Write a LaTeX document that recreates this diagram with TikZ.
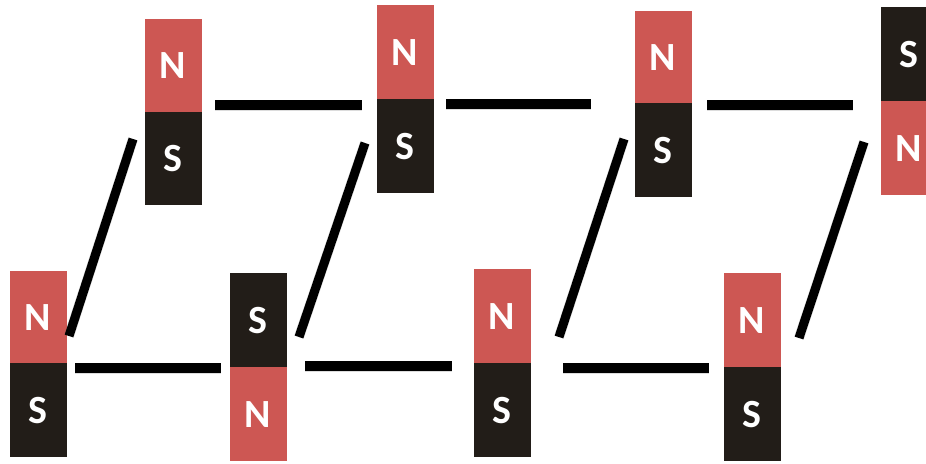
\documentclass[tikz,border=0pt]{standalone}
\usepackage{fontspec}
\setmainfont{Carlito}
\definecolor{northred}{HTML}{CD5753}
\definecolor{southdark}{HTML}{221D18}
\begin{document}
\begin{tikzpicture}[x=1pt,y=-1pt,
  pole/.style={rectangle, draw=none, inner sep=0pt, minimum width=57pt,
    anchor=north, text=white, font=\fontsize{40}{40}\selectfont\bfseries},
  npole/.style={pole, fill=northred, minimum height=#1},
  spole/.style={pole, fill=southdark, minimum height=#1},
  bar/.style={line width=#1, black, line cap=butt},
  barshadow/.style={line width=#1, black!55, opacity=0.25, line cap=butt},
]
\useasboundingbox (0,0) rectangle (926,463);
\clip (0,0) rectangle (926,463);

% upper row of magnets
\node[npole=93] (t1n) at (173,19)  {N};
\node[spole=93] (t1s) at (173,112) {S};
\node[npole=94] (t2n) at (405,5)   {N};
\node[spole=94] (t2s) at (405,99)  {S};
\node[npole=92] (t3n) at (663,11)  {N};
\node[spole=94] (t3s) at (663,103) {S};
\node[spole=94] (t4s) at (909,7)   {S};
\node[npole=94] (t4n) at (909,101) {N};

% lower row of magnets
\node[npole=92] (b1n) at (38,271)  {N};
\node[spole=94] (b1s) at (38,363)  {S};
\node[spole=94] (b2s) at (258,273) {S};
\node[npole=94] (b2n) at (258,367) {N};
\node[npole=94] (b3n) at (502,269) {N};
\node[spole=94] (b3s) at (502,363) {S};
\node[npole=94] (b4n) at (752,273) {N};
\node[spole=94] (b4s) at (752,367) {S};

% bar end points
\coordinate (h1a) at (215,105); \coordinate (h1b) at (362,105);
\coordinate (h2a) at (446,104); \coordinate (h2b) at (591,104);
\coordinate (h3a) at (707,105); \coordinate (h3b) at (853,105);
\coordinate (h4a) at (75,368);  \coordinate (h4b) at (221,368);
\coordinate (h5a) at (305,366); \coordinate (h5b) at (452,366);
\coordinate (h6a) at (563,368); \coordinate (h6b) at (709,368);
\coordinate (d1a) at (69,336);  \coordinate (d1b) at (133,139);
\coordinate (d2a) at (299,337); \coordinate (d2b) at (365,143);
\coordinate (d3a) at (559,337); \coordinate (d3b) at (624,139);
\coordinate (d4a) at (799,338); \coordinate (d4b) at (864,142);

% soft drop shadows under the bars
\begin{scope}[shift={(1.5,2.5)}]
  \foreach \a/\b in {h1a/h1b,h2a/h2b,h3a/h3b,h4a/h4b,h5a/h5b,h6a/h6b}
    \draw[barshadow=11pt] (\a) -- (\b);
  \foreach \a/\b in {d1a/d1b,d2a/d2b,d3a/d3b,d4a/d4b}
    \draw[barshadow=10pt] (\a) -- (\b);
\end{scope}

% the bars
\foreach \a/\b in {h1a/h1b,h2a/h2b,h3a/h3b,h4a/h4b,h5a/h5b,h6a/h6b}
  \draw[bar=10pt] (\a) -- (\b);
\foreach \a/\b in {d1a/d1b,d2a/d2b,d3a/d3b,d4a/d4b}
  \draw[bar=9pt] (\a) -- (\b);
\end{tikzpicture}
\end{document}
